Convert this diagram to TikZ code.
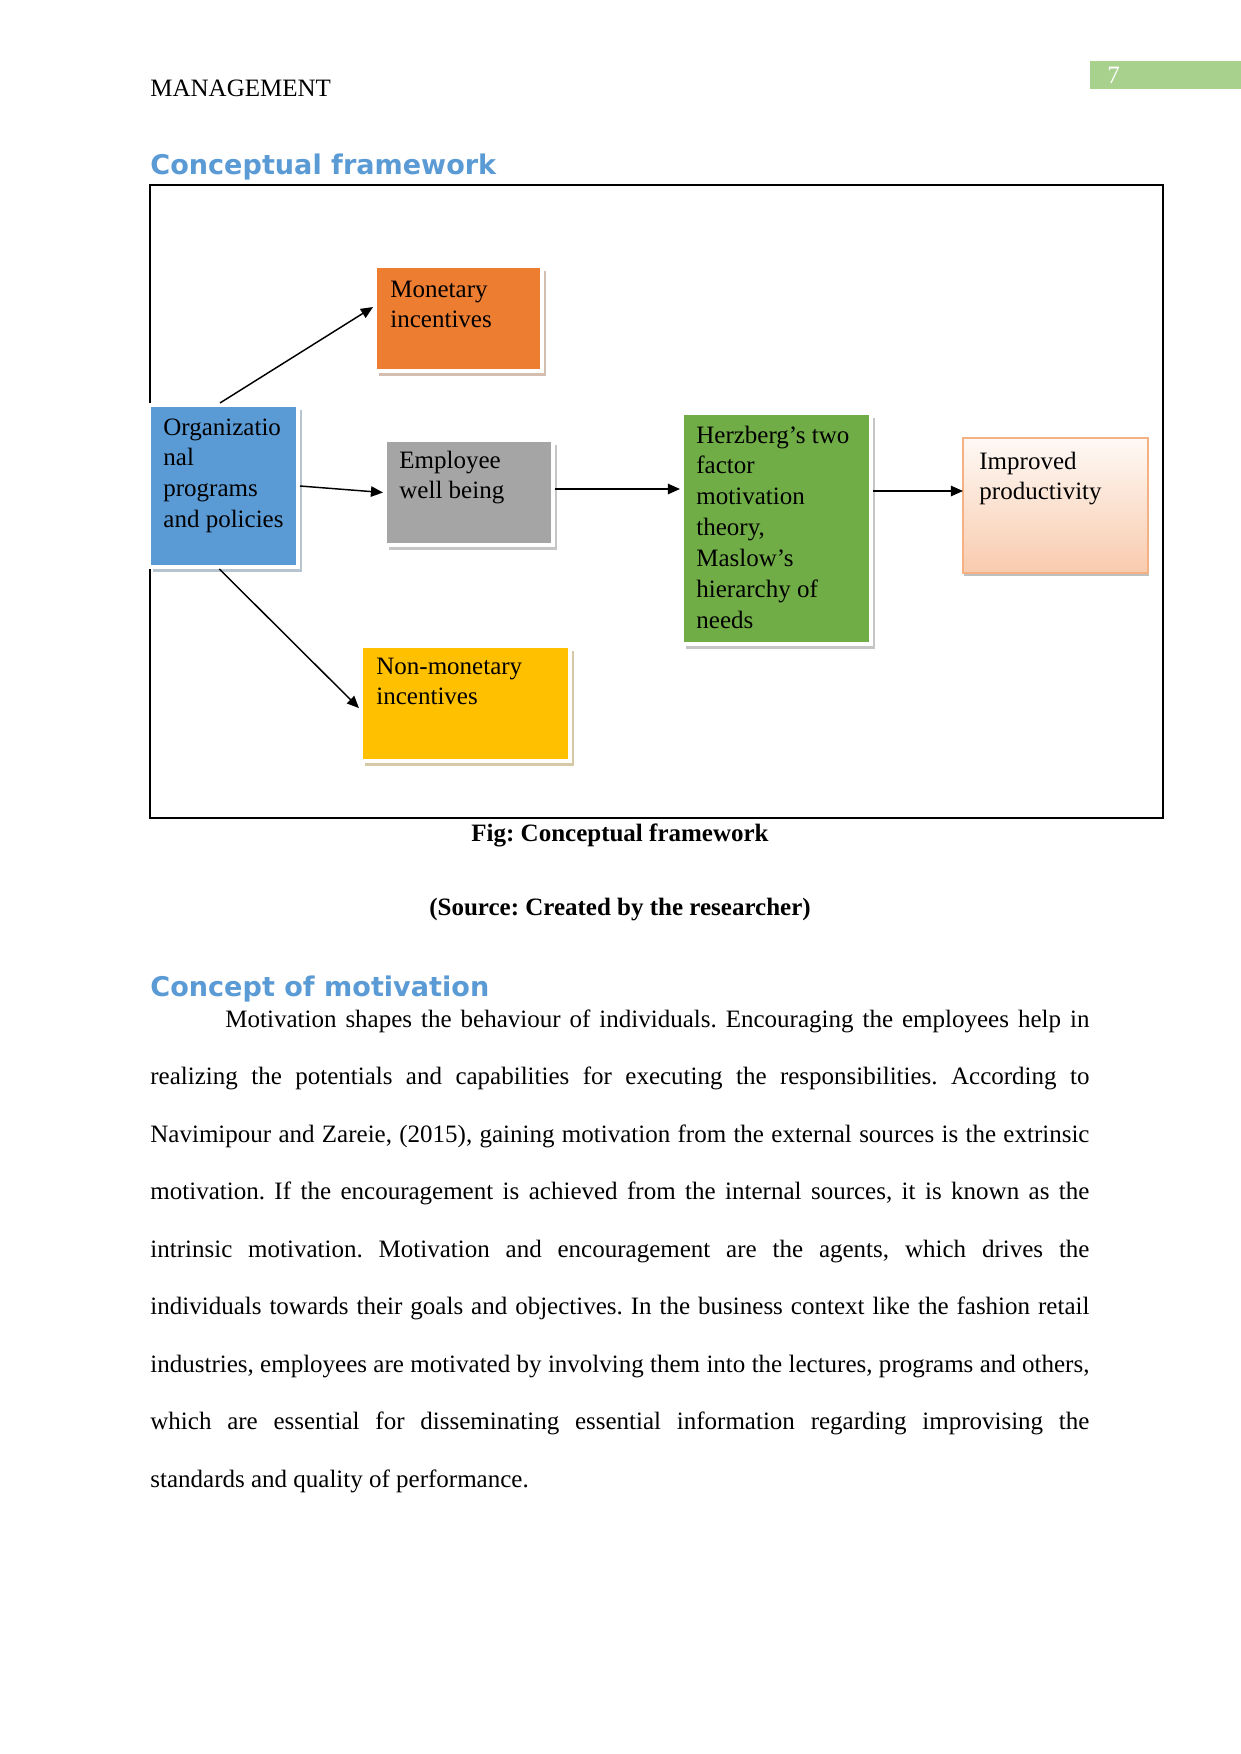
\documentclass[tikz,border=0pt]{standalone}
\usepackage{fontspec}
\setmainfont{Liberation Serif}
\newfontfamily\headfont{DejaVu Sans}
\usetikzlibrary{arrows.meta,shadows}
\frenchspacing
\definecolor{cBlue}{HTML}{5B9BD5}
\definecolor{cOrange}{HTML}{ED7D31}
\definecolor{cGray}{HTML}{A5A5A5}
\definecolor{cYellow}{HTML}{FFC000}
\definecolor{cGreen}{HTML}{70AD47}
\definecolor{cPeach}{HTML}{F8CBAD}
\definecolor{cPeachLine}{HTML}{F4B183}
\definecolor{cPage}{HTML}{A9D18E}
\definecolor{cHead}{HTML}{5B9BD5}
\newcommand\boxtxt[1]{\parbox[t]{110pt}{\raggedright\fontsize{12}{14.8}\selectfont #1}}
\begin{document}
\begin{tikzpicture}[x=0.48pt,y=-0.48pt,
  fbox/.style 2 args={draw=white, line width=1.92pt, inner sep=0pt, outer sep=0.96pt,
    minimum width=#1, minimum height=#2},
  shad/.style={drop shadow={shadow xshift=1.9pt, shadow yshift=-2.4pt, fill=#1!55!black, opacity=0.35}},
  btxt/.style={anchor=base west, inner sep=0pt},
  conn/.style={draw, line width=0.7pt, -{Triangle[length=5.8pt,width=5pt]}},
  heading/.style={anchor=base west, inner sep=0pt, text=cHead, font=\headfont\bfseries\fontsize{13}{15}\selectfont},
  plain/.style={anchor=base west, inner sep=0pt, font=\fontsize{12}{14}\selectfont},
  caption/.style={anchor=base, inner sep=0pt, font=\bfseries\fontsize{12}{14}\selectfont}
]
\useasboundingbox (0,0) rectangle (1241,1754);
\fill[white] (0,0) rectangle (1241,1754);

% header
\node[plain] (hdr) at (150,96.5) {MANAGEMENT};
\fill[cPage] (1090,61) rectangle (1241,89);
\node[plain, text=white] (pg) at (1107,83) {7};

% heading
\node[heading] (h1) at (150,174) {Conceptual framework};

% frame
\draw[line width=0.6pt] (150,185) rectangle (1163,818);

% boxes
\node[fbox={71.52pt}{77.76pt}, fill=cBlue, shad=cBlue] (org) at (223.5,486) {};
\node[fbox={80.16pt}{50.4pt}, fill=cOrange, shad=cOrange] (mon) at (458.5,318.5) {};
\node[fbox={80.64pt}{50.4pt}, fill=cGray, shad=cGray] (emp) at (469,492.5) {};
\node[fbox={100.32pt}{55.2pt}, fill=cYellow, shad=cYellow] (non) at (465.5,703.5) {};
\node[fbox={90.72pt}{110.88pt}, fill=cGreen, shad=cGray] (herz) at (776.5,528.5) {};
\node[draw=cPeachLine, line width=0.8pt, inner sep=0pt, outer sep=0pt,
      minimum width=88.8pt, minimum height=64.8pt,
      top color=cPeach!12, bottom color=cPeach,
      drop shadow={shadow xshift=0.6pt, shadow yshift=-1.6pt, fill=black, opacity=0.25}] (imp) at (1055.5,505.5) {};

% box texts
\node[btxt] (orgt) at (163,435) {\boxtxt{Organizatio\\nal\\programs\\and policies}};
\node[btxt] (mont) at (390,297) {\boxtxt{Monetary\\incentives}};
\node[btxt] (empt) at (399,468) {\boxtxt{Employee\\well being}};
\node[btxt] (nont) at (376,674) {\boxtxt{Non-monetary\\incentives}};
\node[btxt] (herzt) at (696,443) {\boxtxt{Herzberg’s two\\factor\\motivation\\theory,\\Maslow’s\\hierarchy of\\needs}};
\node[btxt] (impt) at (979,469) {\boxtxt{Improved\\productivity}};

% connectors
\draw[conn] ([xshift=-1.7pt]org.north) -- ([yshift=5.5pt]mon.west);
\draw[conn] (org.east) -- (emp.west);
\draw[conn] ([xshift=-2pt]org.south) -- ([yshift=-2.2pt]non.west);
\coordinate (e1) at (emp.east |- 0,489);
\draw[conn] (e1) -- (e1 -| herz.west);
\coordinate (hh) at (herz.east |- 0,491);
\draw[conn] (hh) -- (hh -| imp.west);

% captions
\node[caption] (cap1) at (620,841) {Fig: Conceptual framework};
\node[caption] (cap2) at (620,915) {(Source: Created by the researcher)};

% second heading
\node[heading] (h2) at (150,996) {Concept of motivation};

% body
\node[anchor=base west, inner sep=0pt] (body) at (150,1027) {\parbox[t]{450.72pt}{\fontsize{12}{27.6}\selectfont
\makebox[\linewidth][s]{\hspace*{36pt}Motivation shapes the behaviour of individuals. Encouraging the employees help in}\\
\makebox[\linewidth][s]{realizing the potentials and capabilities for executing the responsibilities. According to}\\
\makebox[\linewidth][s]{Navimipour and Zareie, (2015), gaining motivation from the external sources is the extrinsic}\\
\makebox[\linewidth][s]{motivation. If the encouragement is achieved from the internal sources, it is known as the}\\
\makebox[\linewidth][s]{intrinsic motivation. Motivation and encouragement are the agents, which drives the}\\
\makebox[\linewidth][s]{individuals towards their goals and objectives. In the business context like the fashion retail}\\
\makebox[\linewidth][s]{industries, employees are motivated by involving them into the lectures, programs and others,}\\
\makebox[\linewidth][s]{which are essential for disseminating essential information regarding improvising the}\\
standards and quality of performance.}};
\end{tikzpicture}
\end{document}
